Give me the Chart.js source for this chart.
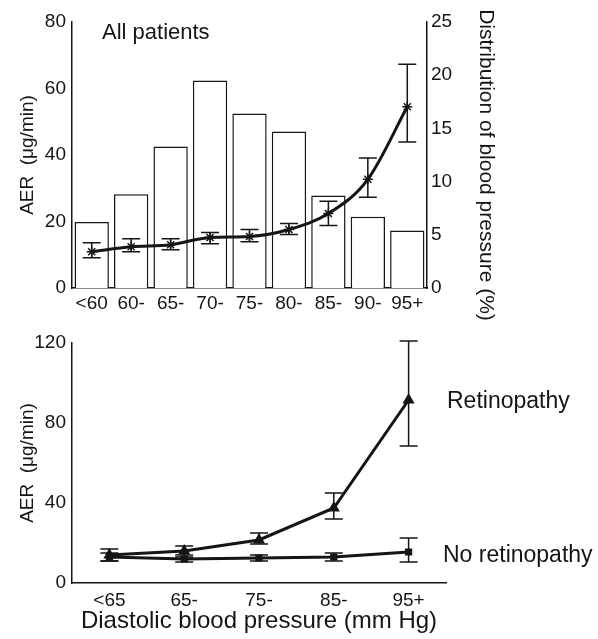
<!DOCTYPE html>
<html>
<head>
<meta charset="utf-8">
<script src="https://cdn.jsdelivr.net/npm/chart.js@4.4.0/dist/chart.umd.min.js"></script>
<style>
    body { margin: 0; background: #fff; }
    canvas { position: absolute; left: 0; }
    #arriba { top: 0; }
    #abajo { top: 320px; }
</style>
</head>
<body>
<canvas id="arriba" width="598" height="320"></canvas>
<canvas id="abajo" width="598" height="319"></canvas>
<script>

// panel superior: todos los pacientes
const categoriasArriba = ['<60', '60-', '65-', '70-', '75-', '80-', '85-', '90-', '95+']
const distribucion = [6.2, 8.8, 13.3, 19.5, 16.4, 14.7, 8.7, 6.7, 5.4]
const aerTodos = [10.9, 12.4, 13.0, 15.2, 15.5, 17.6, 22.4, 32.7, 54.5]
const aerTodosBajo = [9.1, 10.9, 11.5, 13.3, 13.9, 16.1, 18.8, 27.3, 43.9]
const aerTodosAlto = [13.6, 14.8, 14.8, 16.7, 17.6, 19.4, 26.1, 39.1, 67.3]
const ticksAerArriba = [0, 20, 40, 60, 80]
const ticksDistribucion = [0, 5, 10, 15, 20, 25]

// panel inferior: con / sin retinopatia
const categoriasAbajo = ['<65', '65-', '75-', '85-', '95+']
const retinopatia = [14, 16, 21.5, 37.5, 91.5]
const retinopatiaBajo = [11, 13, 19.5, 32, 68.5]
const retinopatiaAlto = [17, 18.5, 25, 45, 121]
const sinRetinopatia = [13, 12, 12.5, 13, 15.5]
const sinRetinopatiaBajo = [11, 10.5, 11, 11, 10.5]
const sinRetinopatiaAlto = [15, 14, 14, 15, 22.5]
const ticksAerAbajo = [0, 40, 80, 120]

const NEGRO = '#151515'
const FUENTE = "'Liberation Sans', Arial, sans-serif"
Chart.defaults.font.family = FUENTE
Chart.defaults.color = NEGRO

// dibuja las barras de error de cada dataset que tenga errBajo/errAlto
const barrasError = {
    id: 'barrasError',
    afterDatasetsDraw(chart) {
        const ctx = chart.ctx
        chart.data.datasets.forEach((ds, i) => {
            if (!ds.errBajo) return
            const meta = chart.getDatasetMeta(i)
            const escala = chart.scales[meta.yAxisID]
            ctx.save()
            ctx.strokeStyle = NEGRO
            ctx.lineWidth = 1.5
            meta.data.forEach((p, j) => {
                const yb = escala.getPixelForValue(ds.errBajo[j])
                const ya = escala.getPixelForValue(ds.errAlto[j])
                ctx.beginPath()
                ctx.moveTo(p.x, yb); ctx.lineTo(p.x, ya)
                ctx.moveTo(p.x - 9, yb); ctx.lineTo(p.x + 9, yb)
                ctx.moveTo(p.x - 9, ya); ctx.lineTo(p.x + 9, ya)
                ctx.stroke()
            })
            ctx.restore()
        })
    }
}

const ejeVertical = (min, max, ticks, extra) => Object.assign({
    min: min,
    max: max,
    afterBuildTicks: s => { s.ticks = ticks.map(v => ({ value: v })) },
    grid: { display: false, drawTicks: false },
    border: { color: NEGRO, width: 1.5 }
}, extra)

new Chart(document.getElementById('arriba'), {
    type: 'bar',
    data: {
        labels: categoriasArriba,
        datasets: [{
            type: 'line',
            data: aerTodos,
            errBajo: aerTodosBajo,
            errAlto: aerTodosAlto,
            yAxisID: 'y',
            borderColor: NEGRO,
            borderWidth: 3,
            cubicInterpolationMode: 'monotone',
            pointStyle: 'star',
            pointRadius: 5,
            pointBorderWidth: 1.5,
            pointBorderColor: NEGRO,
            order: 0
        }, {
            data: distribucion,
            yAxisID: 'y1',
            backgroundColor: '#fff',
            borderColor: NEGRO,
            borderWidth: 1.5,
            barPercentage: 0.87,
            categoryPercentage: 1,
            order: 1
        }]
    },
    options: {
        responsive: false,
        animation: false,
        layout: { padding: { top: 22, left: 0, right: 0, bottom: 0 } },
        plugins: { legend: { display: false }, tooltip: { enabled: false } },
        scales: {
            x: {
                grid: { display: false, drawTicks: false },
                border: { color: NEGRO, width: 1.5 },
                ticks: { font: { size: 19 }, color: NEGRO, padding: 4, maxRotation: 0 },
                afterFit: s => { s.height = 32 }
            },
            y: ejeVertical(0, 80, ticksAerArriba, {
                position: 'left',
                ticks: { font: { size: 19 }, color: NEGRO, padding: 6 },
                title: { display: true, text: 'AER  (μg/min)', font: { size: 19 }, color: NEGRO, padding: { top: 16, bottom: 0 } },
                afterFit: s => { s.width = 72 }
            }),
            y1: ejeVertical(0, 25, ticksDistribucion, {
                position: 'right',
                ticks: { font: { size: 19 }, color: NEGRO, padding: 4 },
                afterFit: s => { s.width = 171 }
            })
        }
    },
    plugins: [barrasError, {
        id: 'textosPanel',
        afterDraw(chart) {
            const ctx = chart.ctx
            ctx.save()
            ctx.fillStyle = NEGRO
            ctx.textBaseline = 'middle'
            ctx.font = '22px ' + FUENTE
            ctx.fillText('All patients', chart.chartArea.left + 30, 33)
            // titulo del eje derecho, leido de arriba hacia abajo
            ctx.translate(486, 165)
            ctx.rotate(Math.PI / 2)
            ctx.textAlign = 'center'
            ctx.font = '21px ' + FUENTE
            ctx.fillText('Distribution of blood pressure (%)', 0, 0)
            ctx.restore()
        }
    }]
})

new Chart(document.getElementById('abajo'), {
    type: 'line',
    data: {
        labels: categoriasAbajo,
        datasets: [{
            label: 'Retinopathy',
            data: retinopatia,
            errBajo: retinopatiaBajo,
            errAlto: retinopatiaAlto,
            borderColor: NEGRO,
            borderWidth: 3,
            pointStyle: 'triangle',
            pointRadius: 4,
            pointBackgroundColor: NEGRO,
            pointBorderColor: NEGRO,
            clip: false
        }, {
            label: 'No retinopathy',
            data: sinRetinopatia,
            errBajo: sinRetinopatiaBajo,
            errAlto: sinRetinopatiaAlto,
            borderColor: NEGRO,
            borderWidth: 3,
            pointStyle: 'rect',
            pointRadius: 3,
            pointBackgroundColor: NEGRO,
            pointBorderColor: NEGRO,
            clip: false
        }]
    },
    options: {
        responsive: false,
        animation: false,
        layout: { padding: { top: 23, left: 0, right: 152, bottom: 0 } },
        plugins: { legend: { display: false }, tooltip: { enabled: false } },
        scales: {
            x: {
                offset: true,
                grid: { display: false, drawTicks: false },
                border: { color: NEGRO, width: 1.5 },
                ticks: { font: { size: 19 }, color: NEGRO, padding: 6, maxRotation: 0 },
                title: { display: true, text: 'Diastolic blood pressure (mm Hg)', font: { size: 24 }, color: NEGRO, padding: { top: 0, bottom: 3 } },
                afterFit: s => { s.height = 56 }
            },
            y: ejeVertical(0, 120, ticksAerAbajo, {
                position: 'left',
                ticks: { font: { size: 19 }, color: NEGRO, padding: 6 },
                title: { display: true, text: 'AER  (μg/min)', font: { size: 19 }, color: NEGRO, padding: { top: 16, bottom: 0 } },
                afterFit: s => { s.width = 72 }
            })
        }
    },
    plugins: [barrasError, {
        id: 'etiquetasSeries',
        afterDraw(chart) {
            const ctx = chart.ctx
            const y = chart.scales.y
            const derecha = chart.chartArea.right
            ctx.save()
            ctx.font = '23px ' + FUENTE
            ctx.fillStyle = NEGRO
            ctx.textBaseline = 'middle'
            ctx.fillText('Retinopathy', derecha + 1, y.getPixelForValue(retinopatia[4]) + 2)
            ctx.fillText('No retinopathy', derecha - 3, y.getPixelForValue(sinRetinopatia[4]) + 4)
            ctx.restore()
        }
    }]
})

</script>
</body>
</html>
